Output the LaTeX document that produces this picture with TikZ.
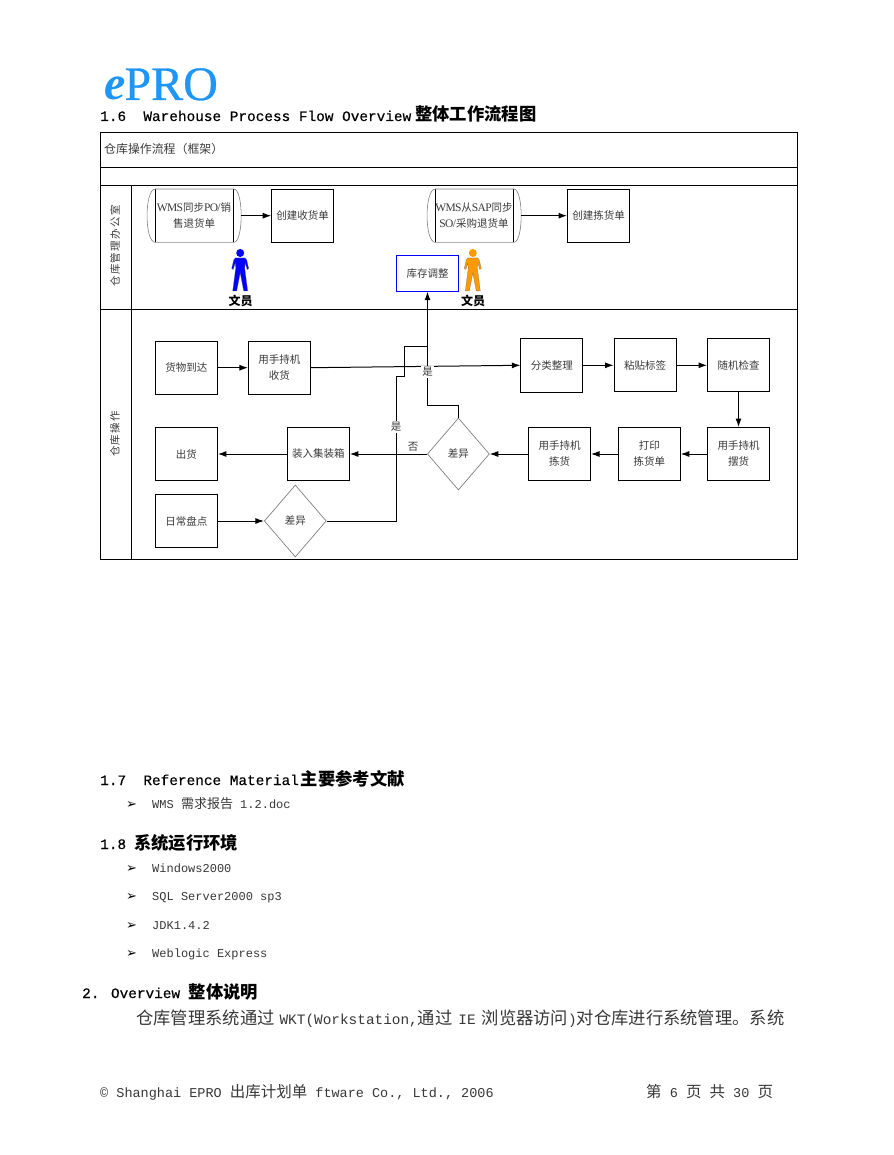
\documentclass[tikz,border=0pt]{standalone}
\usepackage{fontspec}
\setmainfont{Liberation Mono}
\newfontfamily\cjk{Noto Sans CJK SC}
\newfontfamily\rmlat{Liberation Serif}
\newfontfamily\dingf{DejaVu Sans}
\usetikzlibrary{arrows.meta,shapes.geometric}
\definecolor{logoblue}{HTML}{1E96F5}
\definecolor{boxtxt}{HTML}{3A3A3A}
\definecolor{bodytxt}{HTML}{383838}
\definecolor{manorange}{HTML}{FF9A00}
\newcommand{\fs}[1]{\fontsize{#1}{#1}\selectfont}
\newcommand{\hc}[1]{{\cjk\bfseries\fs{17.3}#1}}
\newcommand{\lc}[1]{{\cjk\fs{13}#1}}
\newcommand{\tc}[1]{{\cjk\fs{17.3}#1}}
\newcommand{\fc}[1]{{\cjk\fs{15.5}#1}}
\newcommand{\wl}[1]{{\rmlat\fs{11.5}\addfontfeature{LetterSpace=-6}#1}}
\tikzset{
  x=1pt,y=-1pt,
  line/.style={line width=1pt,black},
  flow/.style={line,-{Latex[length=8.5pt,width=6pt]}},
  boxn/.style={draw=black,line width=1pt,minimum width=62pt,minimum height=53pt,inner sep=0pt,align=center,
    text=boxtxt,font={\cjk\fs{10.5}},execute at begin node={\setlength{\baselineskip}{16pt}}},
  adjbox/.style={boxn,draw=blue,minimum height=36pt},
  diam/.style={diamond,draw=gray,line width=0.7pt,minimum width=62pt,minimum height=72pt,aspect=0.86,inner sep=0pt,
    text=boxtxt,font={\cjk\fs{10.5}}},
  syncn/.style={minimum width=93pt,minimum height=53pt,inner sep=0pt,align=center,text=boxtxt,
    font={\cjk\fs{10.5}},execute at begin node={\setlength{\baselineskip}{16pt}}},
  lane/.style={rotate=90,text=boxtxt,inner sep=0pt,font={\cjk\fs{10.5}\addfontfeature{LetterSpace=12}}},
  edgel/.style={fill=white,inner sep=1pt,text=boxtxt,font={\cjk\fs{10.5}}},
  role/.style={inner sep=0pt,font={\cjk\bfseries\fs{12}}},
  head/.style={anchor=base west,inner sep=0pt,text=black,font={\fs{14.4}\addfontfeature{FakeBold=0.3}}},
  item/.style={anchor=base west,inner sep=0pt,text=bodytxt,font=\fs{12}},
  bullet/.style={anchor=base west,inner sep=0pt,text=black,font={\dingf\fs{13}}},
  para/.style={anchor=base west,inner sep=0pt,text=bodytxt,font=\fs{14.4}},
  foot/.style={anchor=base west,inner sep=0pt,text=bodytxt,font=\fs{13.5}},
  person/.pic={
    \fill[pic actions] (0,0) circle (4);
    \fill[pic actions,draw=black!60,line width=0.2pt] (-5,5) -- (5,5) -- (6.5,7) -- (8.5,15.5) -- (7,16.5) -- (5,10) -- (4.5,15) -- (7.5,38) -- (3.5,38) -- (0,20) -- (-3.5,38) -- (-7.5,38) -- (-4.5,15) -- (-5,10) -- (-7,16.5) -- (-8.5,15.5) -- (-6.5,7) -- cycle;
  }
}
\newcommand{\syncside}[1]{%
  \draw[line] ([xshift=8pt]#1.north west) -- ([xshift=8pt]#1.south west);
  \draw[line] ([xshift=-7pt]#1.north east) -- ([xshift=-7pt]#1.south east);
  \draw[gray,line width=0.6pt] ([xshift=8pt]#1.north west) .. controls ([xshift=-3pt]#1.north west) and ([xshift=-3pt]#1.south west) .. ([xshift=8pt]#1.south west) -- ([xshift=-7pt]#1.south east) .. controls ([xshift=3pt]#1.south east) and ([xshift=3pt]#1.north east) .. ([xshift=-7pt]#1.north east) -- cycle;
}
\begin{document}
\begin{tikzpicture}
\useasboundingbox[fill=white] (0,0) rectangle (893,1155);
% logo
\node[anchor=base west,inner sep=0pt,text=logoblue,font={\rmlat\fs{48}}] (logo) at (104,100) {{\bfseries\itshape e}\kern-1pt{\addfontfeature{FakeBold=0.6}PRO}};
% headings
\node[head] (h16) at (100,121) {1.6\ \ Warehouse Process Flow Overview\kern4pt\hc{整体工作流程图}};
% frame
\draw[line] (100.5,132.5) rectangle (797.5,559.5);
\draw[line] (100.5,167.5) -- (797.5,167.5);
\draw[line] (100.5,185.5) -- (797.5,185.5);
\draw[line] (100.5,309.5) -- (797.5,309.5);
\draw[line] (131.5,185.5) -- (131.5,559.5);
\draw[line] (100.5,559) -- (131.5,559);
\node[anchor=west,inner sep=0pt,text=boxtxt,font={\cjk\fs{11.9}}] (ttl) at (104,149) {仓库操作流程（框架）};
\node[lane] (lane1) at (115,246) {仓库管理办公室};
\node[lane] (lane2) at (115,434) {仓库操作};
% upper lane
\node[syncn] (s1) at (194,215.7) {\wl{WMS}同步\wl{PO/}销\\售退货单};
\syncside{s1}
\node[boxn] (cs) at (302.7,215.7) {创建收货单};
\node[syncn] (s2) at (474,215.7) {\wl{WMS}从\wl{SAP}同步\\\wl{SO/}采购退货单};
\syncside{s2}
\node[boxn] (cj) at (598.5,215.7) {创建拣货单};
\node[adjbox] (adj) at (427.5,273.2) {库存调整};
\pic[fill=blue] at (240.2,253) {person};
\node[role] (r1) at (240.7,301) {文员};
\pic[fill=manorange] at (472.8,253) {person};
\node[role] (r2) at (473,301) {文员};
% lower lane
\node[boxn] (arr) at (186.4,367.7) {货物到达};
\node[boxn] (rec) at (279.4,367.7) {用手持机\\收货};
\node[boxn,minimum height=54pt] (sort) at (551.9,365.3) {分类整理};
\node[boxn] (lab) at (645,365.3) {粘贴标签};
\node[boxn] (chk) at (738.5,365.3) {随机检查};
\node[boxn] (put) at (738.5,454) {用手持机\\摆货};
\node[boxn] (prn) at (649.3,454) {打印\\拣货单};
\node[boxn] (pick) at (559.5,454) {用手持机\\拣货};
\node[diam] (d1) at (458.4,454) {差异};
\node[boxn] (pack) at (318.4,454) {装入集装箱};
\node[boxn] (ship) at (186.4,454) {出货};
\node[boxn] (cnt) at (186.4,521) {日常盘点};
\node[diam] (d2) at (295.3,521) {差异};
\coordinate (j1) at (396,376);
\coordinate (j2) at (404,376);
\coordinate (j3) at (404,346);
\coordinate (j4) at (427.5,346);
\coordinate (j5) at (458.4,405);
\coordinate (j6) at (427.5,405);
% connectors
\draw[flow] (s1) -- (cs);
\draw[flow] (s2) -- (cj);
\draw[flow] (arr) -- (rec);
\draw[flow] (rec.east) -- (sort.west);
\draw[flow] (sort) -- (lab);
\draw[flow] (lab) -- (chk);
\draw[flow] (chk) -- (put);
\draw[flow] (put) -- (prn);
\draw[flow] (prn) -- (pick);
\draw[flow] (pick) -- (d1);
\draw[flow] (d1) -- (pack);
\draw[flow] (pack) -- (ship);
\draw[flow] (cnt) -- (d2);
\draw[flow] (d1.north) -- (j5) -- (j6) -- (adj.south);
\draw[line] (d2.east) -| (j1) -- (j2) -- (j3) -- (j4);
\node[edgel] (yes1) at (427.5,372) {是};
\node[edgel] (yes2) at (396,427) {是};
\node[inner sep=0pt,text=boxtxt,font={\cjk\fs{10.5}}] (no) at (413,447) {否};
% lower text
\node[head] (h17) at (100,785) {1.7\ \ Reference Material\kern2pt\hc{主要参考文献}};
\node[bullet] (b1) at (126,808) {➢};
\node[item] (i1) at (152,808) {WMS \lc{需求报告} 1.2.doc};
\node[head] (h18) at (100,849) {1.8\kern8pt\hc{系统运行环境}};
\node[bullet] (b2) at (126,872) {➢};
\node[item] (i2) at (152,872) {Windows2000};
\node[bullet] (b3) at (126,900) {➢};
\node[item] (i3) at (152,900) {SQL Server2000 sp3};
\node[bullet] (b4) at (126,929) {➢};
\node[item] (i4) at (152,929) {JDK1.4.2};
\node[bullet] (b5) at (126,957) {➢};
\node[item] (i5) at (152,957) {Weblogic Express};
\node[head] (h2) at (82,998) {2. Overview \hc{整体说明}};
\node[para] (p1) at (136,1024) {\tc{仓库管理系统通过}\kern5pt WKT(Workstation,\tc{通过}\kern6pt IE\kern6pt\tc{浏览器访问})\tc{对仓库进行系统管理。系统}};
\node[foot] (f1) at (100,1097) {© Shanghai EPRO \fc{出库计划单} ftware Co., Ltd., 2006};
\node[foot] (f2) at (646,1097) {\fc{第} 6 \fc{页} \fc{共} 30 \fc{页}};
\end{tikzpicture}
\end{document}
